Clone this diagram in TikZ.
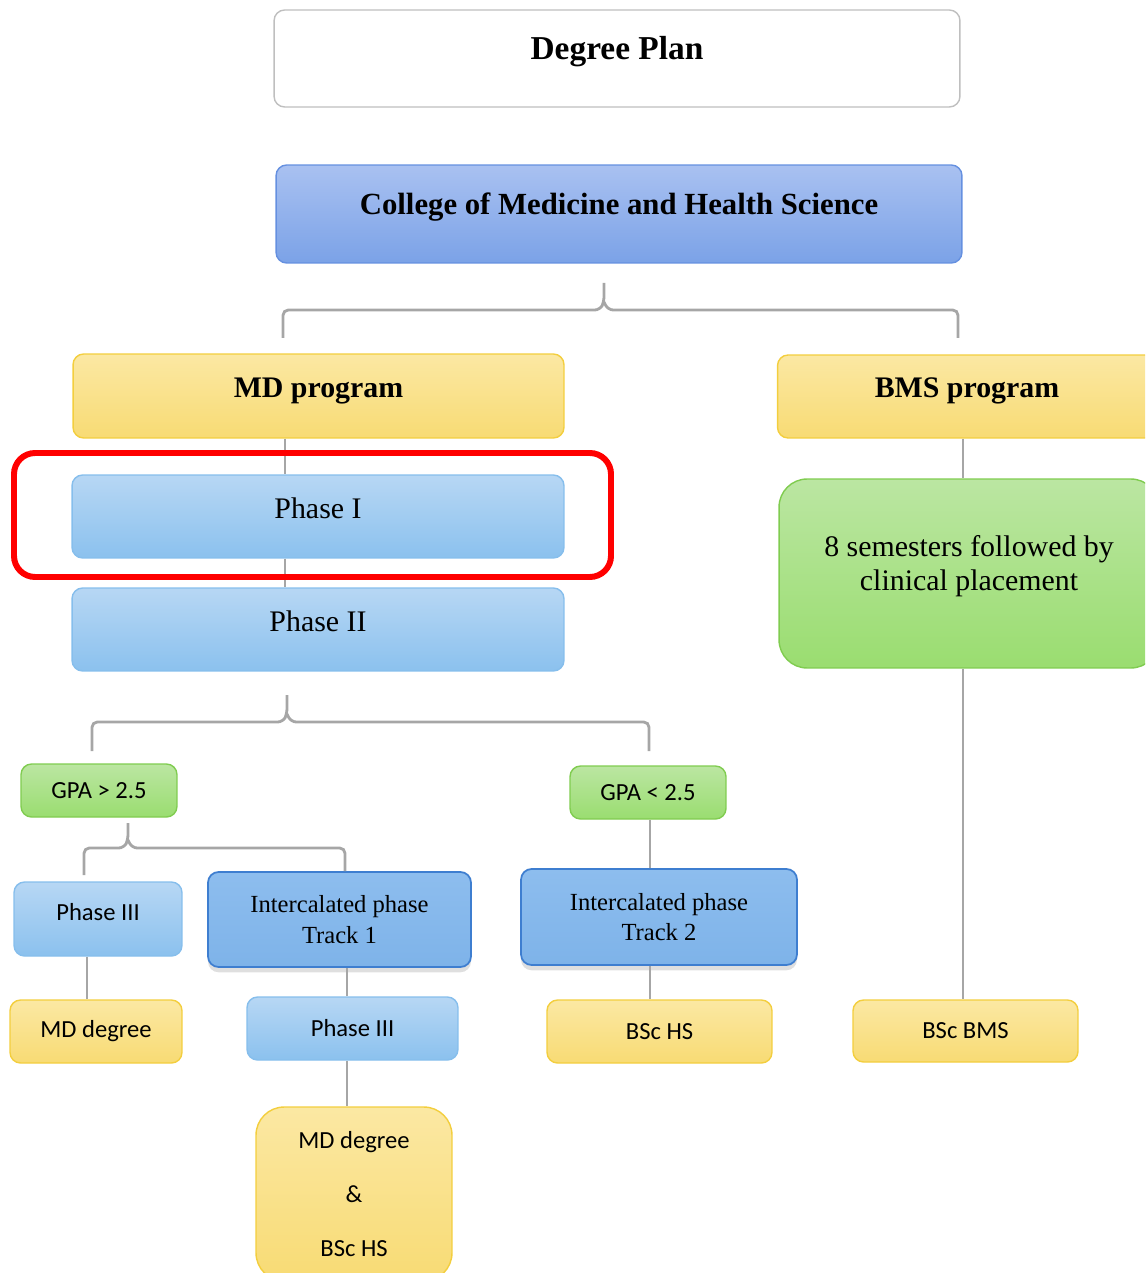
\documentclass[tikz,border=0pt]{standalone}
\usepackage{fontspec}
\setmainfont{Liberation Serif}
\newfontfamily\calibri{Carlito}
\usepackage{tikz}
\usetikzlibrary{shadows}

\definecolor{goldtop}{HTML}{FBE8A3}
\definecolor{goldbot}{HTML}{F8DB74}
\definecolor{goldline}{HTML}{F3CE3E}
\definecolor{skytop}{HTML}{B7D7F4}
\definecolor{skybot}{HTML}{8BC1EE}
\definecolor{skyline}{HTML}{86BEEC}
\definecolor{navytop}{HTML}{A9C1F1}
\definecolor{navybot}{HTML}{7BA2E7}
\definecolor{navyline}{HTML}{6590E0}
\definecolor{limetop}{HTML}{BBE6A2}
\definecolor{limebot}{HTML}{9ADD70}
\definecolor{limeline}{HTML}{80CC50}
\definecolor{tracktop}{HTML}{8DBDEE}
\definecolor{trackbot}{HTML}{7EB3E9}
\definecolor{trackline}{HTML}{3E7ED0}
\definecolor{linegray}{HTML}{A6A6A6}
\definecolor{planline}{HTML}{BFBFBF}

\begin{document}
\begin{tikzpicture}[x=0.02cm, y=-0.02cm,
    box/.style={rounded corners=6pt, line width=0.8pt, align=center, inner sep=2pt},
    plain/.style={box, draw=planline, fill=white},
    navy/.style={box, draw=navyline, top color=navytop, bottom color=navybot},
    gold/.style={box, draw=goldline, top color=goldtop, bottom color=goldbot},
    sky/.style={box, draw=skyline, top color=skytop, bottom color=skybot},
    lime/.style={box, draw=limeline, top color=limetop, bottom color=limebot},
    track/.style={box, draw=trackline, line width=1pt, top color=tracktop, bottom color=trackbot,
      drop shadow={shadow xshift=0pt, shadow yshift=-3pt, opacity=0.25},
      font=\fontsize{14}{17.5}\selectfont},
    small/.style={font=\calibri\fontsize{14}{17}\selectfont},
    heading/.style={font=\bfseries\fontsize{17}{20}\selectfont},
    lift/.style={text depth=#1},
    link/.style={draw=linegray, line width=1.6pt}]
  \useasboundingbox (0,0) rectangle (1145,1273);
  \clip (0,0) rectangle (1145,1273);

  % top of the plan
  \node[plain, lift=0.42cm, minimum width=13.72cm, minimum height=1.94cm,
    font=\bfseries\fontsize{19}{23}\selectfont] (plan) at (617,58.5) {Degree Plan};
  \node[navy, lift=0.4cm, minimum width=13.72cm, minimum height=1.96cm,
    font=\bfseries\fontsize{17.5}{21}\selectfont] (college) at (619,214) {College of Medicine and Health Science};

  \node[gold, heading, lift=0.34cm, minimum width=9.82cm, minimum height=1.68cm] (md) at (318.5,396) {MD program};
  \node[gold, heading, lift=0.34cm, minimum width=7.58cm, minimum height=1.66cm] (bms) at (967,396.5) {BMS program};

  \node[sky, lift=0.34cm, minimum width=9.84cm, minimum height=1.66cm, font=\fontsize{17}{20}\selectfont] (phase1) at (318,516.5) {Phase I};
  \node[sky, lift=0.34cm, minimum width=9.84cm, minimum height=1.66cm, font=\fontsize{17}{20}\selectfont] (phase2) at (318,629.5) {Phase II};
  \node[lime, lift=0.42cm, rounded corners=16pt, minimum width=7.6cm, minimum height=3.78cm,
    font=\fontsize{17}{19.5}\selectfont] (bmsplan) at (969,573.5) {8 semesters followed by\\clinical placement};

  % MD branches
  \node[lime, small, minimum width=3.12cm, minimum height=1.06cm] (gpahi) at (99,790.5) {GPA > 2.5};
  \node[lime, small, minimum width=3.12cm, minimum height=1.06cm] (gpalo) at (648,792.5) {GPA < 2.5};
  \node[sky, small, lift=0.28cm, minimum width=3.36cm, minimum height=1.48cm] (phase3a) at (98,919) {Phase III};
  \node[track, minimum width=5.26cm, minimum height=1.9cm] (track1) at (339.5,919.5) {Intercalated phase\\Track 1};
  \node[track, minimum width=5.52cm, minimum height=1.92cm] (track2) at (659,917) {Intercalated phase\\Track 2};

  % degrees
  \node[gold, small, minimum width=3.44cm, minimum height=1.26cm] (mddeg) at (96,1031.5) {MD degree};
  \node[sky, small, minimum width=4.22cm, minimum height=1.26cm] (phase3b) at (352.5,1028.5) {Phase III};
  \node[gold, small, minimum width=4.5cm, minimum height=1.26cm] (bschs) at (659.5,1031.5) {BSc HS};
  \node[gold, small, minimum width=4.5cm, minimum height=1.24cm] (bscbms) at (965.5,1031) {BSc BMS};
  \node[gold, small, rounded corners=16pt, minimum width=3.92cm, minimum height=3.48cm] (dual) at (354,1194) {MD degree\\[14pt]\&\\[14pt]BSc HS};

  % braces
  \draw[link, rounded corners=3pt] (283,338) |- (600,310) -- (604,302) -- (604,283);
  \draw[link, rounded corners=3pt] (958,338) |- (608,310) -- (604,302);
  \draw[link, rounded corners=3pt] (92,751) |- (283,722) -- (287,714) -- (287,695);
  \draw[link, rounded corners=3pt] (649,751) |- (291,722) -- (287,714);
  \draw[link, rounded corners=3pt] (84,875) |- (124,848) -- (128,840) -- (128,823);
  \draw[link, rounded corners=3pt] (track1.north -| 345,0) |- (132,848) -- (128,840);

  % straight links
  \coordinate (spine) at (285,0);
  \draw[link] (md.south -| spine) -- (phase1.north -| spine);
  \draw[link] (phase1.south -| spine) -- (phase2.north -| spine);
  \coordinate (bmsspine) at (963,0);
  \draw[link] (bms.south -| bmsspine) -- (bmsplan.north -| bmsspine);
  \draw[link] (bmsplan.south -| bmsspine) -- (bscbms.north -| bmsspine);
  \coordinate (lospine) at (650,0);
  \draw[link] (gpalo.south -| lospine) -- (track2.north -| lospine);
  \draw[link] (track2.south -| lospine) -- (bschs.north -| lospine);
  \coordinate (hispine) at (87,0);
  \draw[link] (phase3a.south -| hispine) -- (mddeg.north -| hispine);
  \coordinate (midspine) at (347,0);
  \draw[link] (track1.south -| midspine) -- (phase3b.north -| midspine);
  \draw[link] (phase3b.south -| midspine) -- (dual.north -| midspine);

  % highlight
  \draw[red, line width=3.4pt, rounded corners=12pt] (14,453) rectangle (611,577);
\end{tikzpicture}
\end{document}
